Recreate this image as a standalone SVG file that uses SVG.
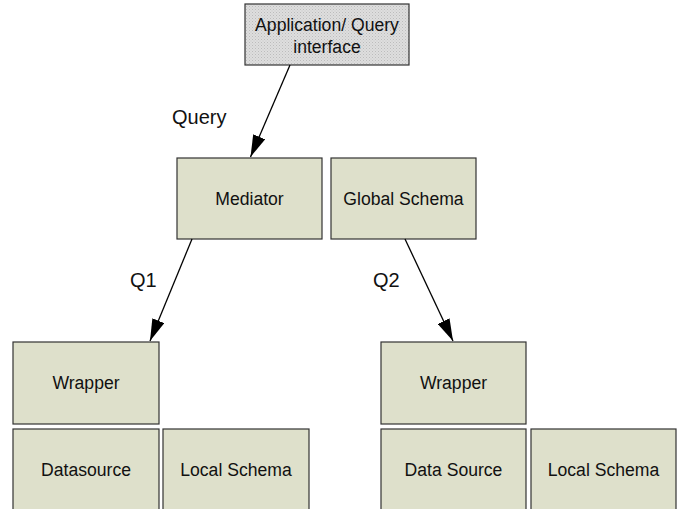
<svg xmlns="http://www.w3.org/2000/svg" width="679" height="509" viewBox="0 0 679 509">
  <defs>
    <pattern id="dots" width="3" height="3" patternUnits="userSpaceOnUse">
      <rect width="3" height="3" fill="#dedede"/>
      <rect x="0" y="0" width="1" height="1" fill="#bcbcbc"/>
      <rect x="1.5" y="1.5" width="1" height="1" fill="#c8c8c8"/>
    </pattern>
    <marker id="arrow" viewBox="0 0 22 13" refX="22" refY="6.5" markerWidth="22" markerHeight="13" markerUnits="userSpaceOnUse" orient="auto">
      <path d="M0,0 L22,6.5 L0,13 Z" fill="#000"/>
    </marker>
  </defs>
  <style>
    .box { fill: #dee0cb; stroke: #333; stroke-width: 1.2; }
    .top { fill: url(#dots); stroke: #333; stroke-width: 1.2; }
    text { font-family: "Liberation Sans", Arial, sans-serif; font-size: 17.6px; fill: #111; }
    .c { text-anchor: middle; }
    .lbl { font-size: 20px; }
    .edge { stroke: #000; stroke-width: 1.3; fill: none; marker-end: url(#arrow); }
  </style>
  <rect width="679" height="509" fill="#fff"/>

  <g id="app">
    <rect class="top" x="245" y="4" width="164" height="61"/>
    <text class="c" x="327" y="30.5">Application/ Query</text>
    <text class="c" x="327" y="53">interface</text>
  </g>
  <g id="mediator">
    <rect class="box" x="177" y="158" width="145" height="81"/>
    <text class="c" x="249.5" y="205">Mediator</text>
  </g>
  <g id="global-schema">
    <rect class="box" x="331" y="158" width="145" height="81"/>
    <text class="c" x="403.5" y="205">Global Schema</text>
  </g>
  <g id="wrapper1">
    <rect class="box" x="13" y="342" width="146" height="82"/>
    <text class="c" x="86" y="389">Wrapper</text>
  </g>
  <g id="datasource1">
    <rect class="box" x="13" y="429" width="146" height="90"/>
    <text class="c" x="86" y="476">Datasource</text>
  </g>
  <g id="local-schema1">
    <rect class="box" x="163" y="429" width="146" height="90"/>
    <text class="c" x="236" y="476">Local Schema</text>
  </g>
  <g id="wrapper2">
    <rect class="box" x="381" y="342" width="145" height="82"/>
    <text class="c" x="453.5" y="389">Wrapper</text>
  </g>
  <g id="datasource2">
    <rect class="box" x="381" y="429" width="145" height="90"/>
    <text class="c" x="453.5" y="476">Data Source</text>
  </g>
  <g id="local-schema2">
    <rect class="box" x="531" y="429" width="145" height="90"/>
    <text class="c" x="603.5" y="476">Local Schema</text>
  </g>

  <g id="connectors">
    <line class="edge" x1="290" y1="65" x2="250.5" y2="157"/>
    <text class="lbl" x="172" y="124">Query</text>
    <line class="edge" x1="192" y1="239" x2="150" y2="341"/>
    <text class="lbl" x="130" y="287">Q1</text>
    <line class="edge" x1="405" y1="239" x2="453" y2="341"/>
    <text class="lbl" x="373" y="287">Q2</text>
  </g>
</svg>
